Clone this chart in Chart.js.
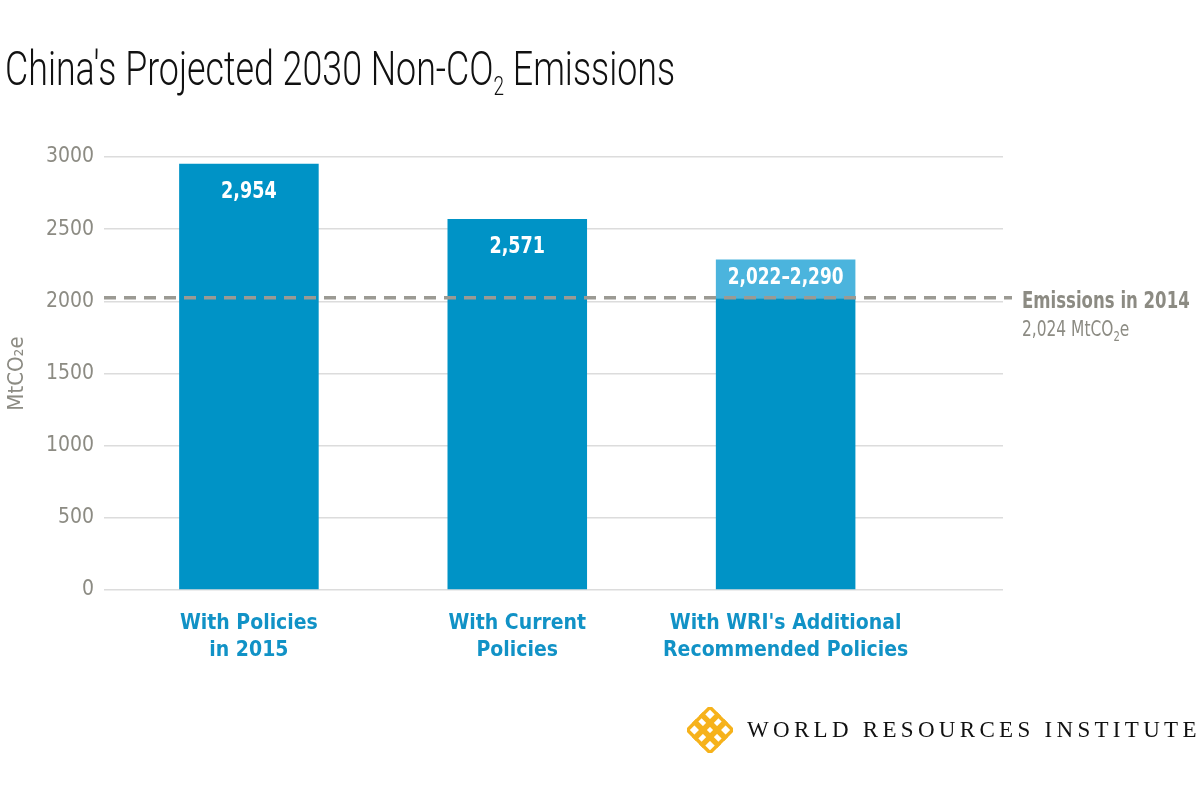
<!DOCTYPE html>
<html>
<head>
<meta charset="utf-8">
<script src="https://cdn.jsdelivr.net/npm/chart.js@4"></script>
<style>
  body { margin: 0; background: #fff; }
  #wrap { position: relative; width: 1200px; height: 800px; }
  #title {
    position: absolute; left: 5px; top: 40px; margin: 0; white-space: nowrap;
    font-family: Roboto, 'DejaVu Sans Condensed', sans-serif;
    font-weight: 300; font-size: 49px; color: #111;
    transform: scaleX(0.73); transform-origin: left top;
  }
  #title sub { font-size: 26px; vertical-align: -10px; line-height: 0; }
  #logo { position: absolute; left: 687px; top: 707px; display: flex; align-items: center; white-space: nowrap; }
  #logo span {
    margin-left: 14px; font-family: 'Liberation Serif', 'DejaVu Serif', serif;
    font-size: 23px; letter-spacing: 4.3px; color: #111;
  }
</style>
</head>
<body>
<div id="wrap">
  <canvas id="chart" width="1200" height="800"></canvas>
  <h1 id="title">China's Projected 2030 Non-CO<sub>2</sub> Emissions</h1>
  <div id="logo">
    <svg width="46" height="46" viewBox="0 0 46 46">
      <g transform="rotate(45 23 23)" fill="none" stroke="#F6B21B" stroke-width="3.5">
        <rect x="7" y="7" width="12" height="12"/>
        <rect x="17" y="7" width="12" height="12"/>
        <rect x="27" y="7" width="12" height="12"/>
        <rect x="7" y="17" width="12" height="12"/>
        <rect x="27" y="17" width="12" height="12"/>
        <rect x="7" y="27" width="12" height="12"/>
        <rect x="17" y="27" width="12" height="12"/>
        <rect x="27" y="27" width="12" height="12"/>
        <rect x="17" y="17" width="12" height="12"/>
      </g>
    </svg>
    <span>WORLD RESOURCES INSTITUTE</span>
  </div>
</div>
<script>
// China non-CO2 emissions projections (MtCO2e)
const categories = [
  ['With Policies', 'in 2015'],
  ['With Current', 'Policies'],
  ["With WRI's Additional", 'Recommended Policies']
];
const baseValues = [2954, 2571, 2022];
const rangeValues = [null, null, [2022, 2290]];
const valueLabels = ['2,954', '2,571', '2,022–2,290'];
const yTicks = [0, 500, 1000, 1500, 2000, 2500, 3000];
const emissions2014 = 2024;
const refLabel = 'Emissions in 2014';
const refSub = ['2,024 MtCO', '2', 'e'];

const FONT = "'DejaVu Sans Condensed', 'Liberation Sans Narrow', Roboto, sans-serif";
const GRAY = '#8c8b83';
const BLUE = '#0093c6';
const LIGHT_BLUE = '#4bb4dd';

// text squeezed horizontally to mimic the narrow original face
function squeezed(ctx, text, x, y, sx) {
  ctx.save();
  ctx.translate(x, y);
  ctx.scale(sx, 1);
  ctx.fillText(text, 0, 0);
  const w = ctx.measureText(text).width * sx;
  ctx.restore();
  return w;
}

const labelsPlugin = {
  id: 'valueLabels',
  afterDatasetsDraw(chart) {
    const ctx = chart.ctx;
    const y = chart.scales.y;
    const area = chart.chartArea;

    // dashed 2014 reference line
    const yRef = y.getPixelForValue(emissions2014);
    ctx.save();
    ctx.strokeStyle = '#9b9a93';
    ctx.lineWidth = 3.5;
    ctx.setLineDash([12, 8]);
    ctx.beginPath();
    ctx.moveTo(area.left, yRef);
    ctx.lineTo(area.right + 9, yRef);
    ctx.stroke();
    ctx.restore();

    // reference annotation
    ctx.save();
    ctx.fillStyle = GRAY;
    ctx.textBaseline = 'alphabetic';
    ctx.textAlign = 'left';
    const tx = area.right + 19;
    ctx.font = 'bold 23px ' + FONT;
    squeezed(ctx, refLabel, tx, yRef + 10, 0.8);
    let x = tx;
    const by = yRef + 38;
    ctx.font = '22px ' + FONT;
    x += squeezed(ctx, refSub[0], x, by, 0.78);
    ctx.font = '14px ' + FONT;
    x += squeezed(ctx, refSub[1], x, by + 5, 0.8);
    ctx.font = '22px ' + FONT;
    squeezed(ctx, refSub[2], x, by, 0.78);
    ctx.restore();

    // value labels inside bars
    ctx.save();
    ctx.fillStyle = '#fff';
    ctx.font = 'bold 23px ' + FONT;
    ctx.textAlign = 'center';
    ctx.textBaseline = 'middle';
    const m0 = chart.getDatasetMeta(0);
    const m1 = chart.getDatasetMeta(1);
    valueLabels.forEach((lab, i) => {
      if (rangeValues[i]) {
        const bar = m1.data[i];
        const top = y.getPixelForValue(rangeValues[i][1]);
        const bot = y.getPixelForValue(rangeValues[i][0]);
        squeezed(ctx, lab, bar.x, (top + bot) / 2 - 1, 0.82);
      } else {
        const bar = m0.data[i];
        squeezed(ctx, lab, bar.x, bar.y + 28, 0.85);
      }
    });
    ctx.restore();
  }
};

new Chart(document.getElementById('chart'), {
  type: 'bar',
  plugins: [labelsPlugin],
  data: {
    datasets: [
      {
        data: baseValues.map((v, i) => ({ x: i, y: v })),
        backgroundColor: BLUE,
        grouped: false,
        barPercentage: 0.52,
        categoryPercentage: 1
      },
      {
        data: rangeValues.map((v, i) => ({ x: i, y: v })),
        backgroundColor: LIGHT_BLUE,
        grouped: false,
        barPercentage: 0.52,
        categoryPercentage: 1
      }
    ]
  },
  options: {
    responsive: false,
    animation: false,
    layout: { padding: { top: 157, right: 197, left: 0, bottom: 0 } },
    plugins: { legend: { display: false }, tooltip: { enabled: false } },
    scales: {
      x: {
        type: 'linear',
        offset: false,
        min: -0.54,
        max: 2.81,
        afterBuildTicks: s => { s.ticks = categories.map((_, i) => ({ value: i })); },
        afterFit: s => { s.height = 210; },
        grid: { display: false },
        border: { display: false },
        ticks: {
          padding: 12,
          maxRotation: 0,
          autoSkip: false,
          color: '#1192c6',
          font: { family: FONT, size: 21, weight: 'bold', lineHeight: 1.3 },
          callback: v => categories[v]
        }
      },
      y: {
        min: 0,
        max: 3000,
        afterBuildTicks: s => { s.ticks = yTicks.map(v => ({ value: v })); },
        afterFit: s => { s.width = 104; },
        grid: { color: '#dcdcdc', lineWidth: 1.5, drawTicks: false },
        border: { display: false },
        ticks: {
          padding: 10,
          color: GRAY,
          font: { family: FONT, size: 21 },
          callback: v => String(v)
        },
        title: {
          display: true,
          text: 'MtCO₂e',
          color: GRAY,
          font: { family: FONT, size: 22 },
          padding: { top: 4, bottom: 0 }
        }
      }
    }
  }
});
</script>
</body>
</html>
